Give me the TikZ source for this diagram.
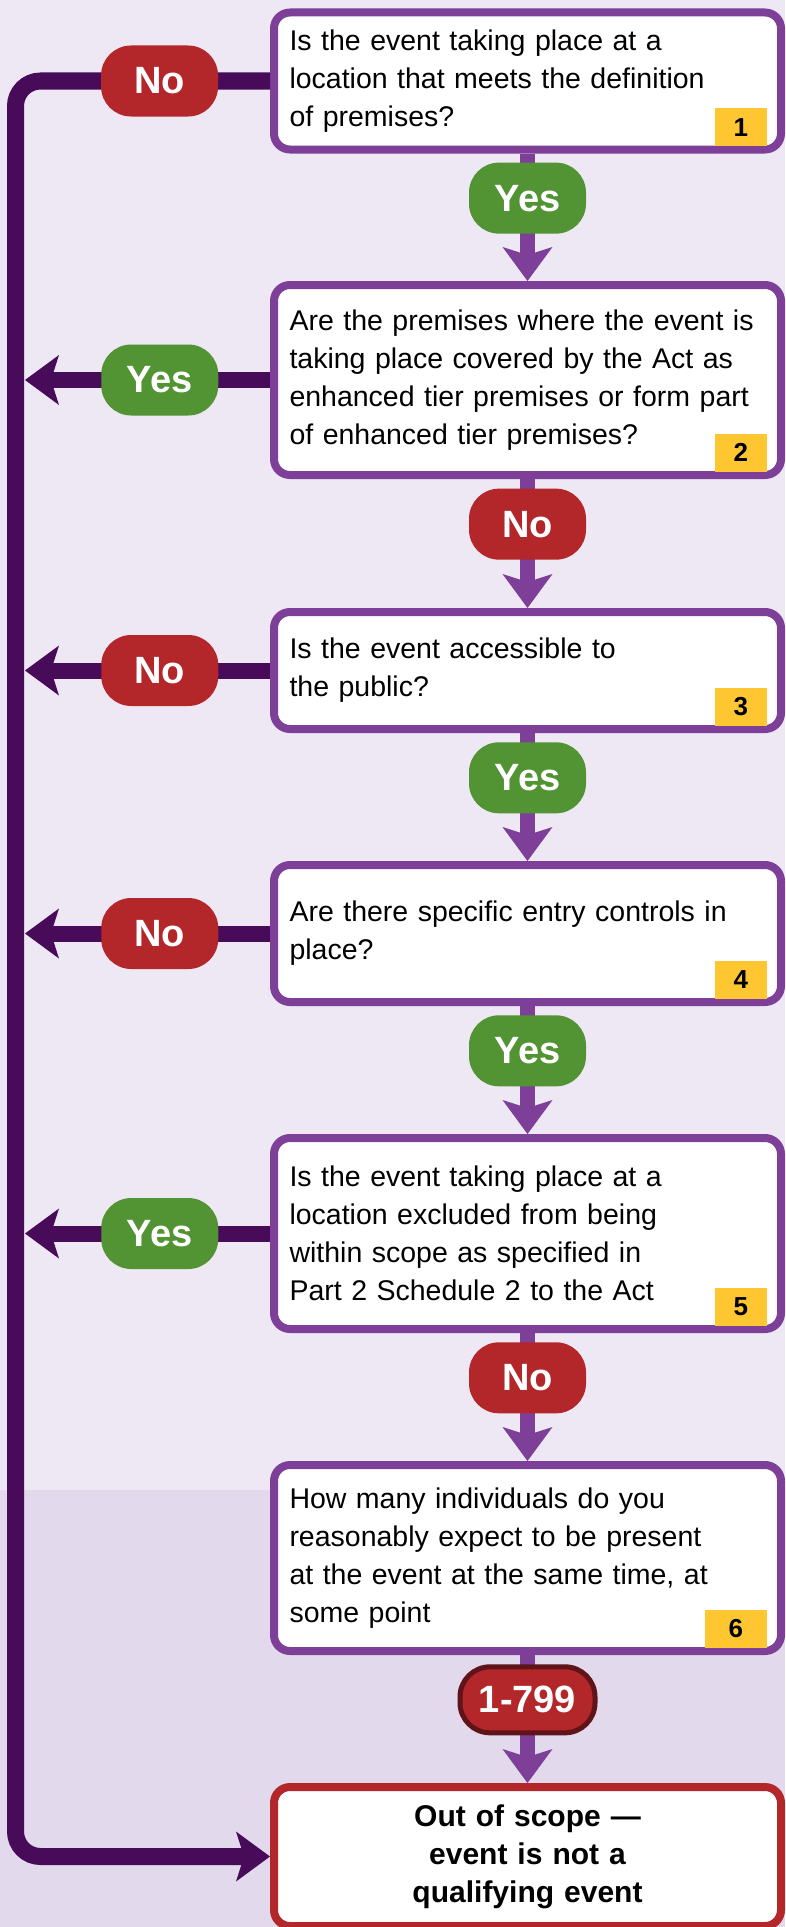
\documentclass[tikz,border=0pt]{standalone}
\usepackage{fontspec}
\setmainfont{Liberation Sans}
\usetikzlibrary{arrows.meta}

\definecolor{bglight}{RGB}{238,231,244}
\definecolor{bgdark}{RGB}{226,217,236}
\definecolor{boxpurple}{RGB}{125,63,152}
\definecolor{railpurple}{RGB}{71,11,89}
\definecolor{nored}{RGB}{179,38,41}
\definecolor{rimred}{RGB}{94,20,24}
\definecolor{yesgreen}{RGB}{82,147,51}
\definecolor{tagyellow}{RGB}{254,198,48}

\begin{document}
\begin{tikzpicture}[x=1pt,y=-1pt]
			\tikzstyle{question}= [
				rectangle, rounded corners = 16pt, draw = boxpurple, fill = white,
				line width = 8pt, minimum width = 507pt, text width = 476pt,
				inner xsep = 15.5pt, inner ysep = 0pt, align = left,
				font = \fontsize{28.5}{38}\selectfont
			]
			\tikzstyle{verdict}= [question, draw = nored, align = center,
				font = \fontsize{30}{38}\selectfont\bfseries]
			\tikzstyle{tag}= [
				rectangle, fill = tagyellow, anchor = south east,
				minimum width = 52pt, minimum height = 38pt, inner sep = 0pt,
				font = \fontsize{26}{26}\selectfont\bfseries
			]
			\tikzstyle{pill}= [
				rectangle, rounded corners = 30pt, text = white,
				minimum width = 117pt, minimum height = 71pt, inner sep = 0pt,
				font = \fontsize{38}{38}\selectfont\bfseries
			]
			\tikzstyle{nopill}=[pill, fill = nored]
			\tikzstyle{yespill}=[pill, fill = yesgreen]
			\tikzstyle{countpill}=[nopill, draw = rimred, line width = 5pt,
				minimum width = 135pt, minimum height = 66pt]
			\tikzstyle{downline}=[-{Stealth[length=34pt, width=50pt, inset=8pt, line width=0pt]},
				draw = boxpurple, line width = 15pt]
			\tikzstyle{exitline}=[-{Stealth[length=34pt, width=50pt, inset=8pt, line width=0pt]},
				draw = railpurple, line width = 16pt]
			\tikzstyle{railline}=[exitline, line width = 17pt, rounded corners = 25pt]

			\useasboundingbox (0,0) rectangle (785,1927);
			\fill[bglight] (0,0) rectangle (785,1490);
			\fill[bgdark] (0,1490) rectangle (785,1927);

			\node[question, minimum height = 137pt] (1) at (527.5, 81)
				{Is the event taking place at a\\ location that meets the definition\\ of premises?};
			\node[question, minimum height = 190pt] (2) at (527.5, 380)
				{Are the premises where the event is\\ taking place covered by the Act as\\ enhanced tier premises or form part\\ of enhanced tier premises?};
			\node[question, minimum height = 117pt] (3) at (527.5, 670.5)
				{Is the event accessible to\\ the public?};
			\node[question, minimum height = 137pt] (4) at (527.5, 933.5)
				{Are there specific entry controls in\\ place?};
			\node[question, minimum height = 191pt] (5) at (527.5, 1233.5)
				{Is the event taking place at a\\ location excluded from being\\ within scope as specified in\\ Part 2 Schedule 2 to the Act};
			\node[question, minimum height = 186pt] (6) at (527.5, 1558)
				{How many individuals do you\\ reasonably expect to be present\\ at the event at the same time, at\\ some point};
			\node[verdict, minimum height = 139pt] (out) at (527.5, 1856.5)
				{Out of scope —\\ event is not a\\ qualifying event};

			\node[tag] (t1) at ([shift = {(-18,-7)}] 1.south east) {1};
			\node[tag] (t2) at ([shift = {(-18,-7)}] 2.south east) {2};
			\node[tag] (t3) at ([shift = {(-18,-7)}] 3.south east) {3};
			\node[tag] (t4) at ([shift = {(-18,-7)}] 4.south east) {4};
			\node[tag] (t5) at ([shift = {(-18,-7)}] 5.south east) {5};
			\node[tag, minimum width = 62pt] (t6) at ([shift = {(-18,-7)}] 6.south east) {6};

			\coordinate (railx) at (15.5, 0);
			\coordinate (edge) at (25, 0);

			\draw (1) to node[yespill, pos = 0.35] (p2) {Yes} (2) [downline];
			\draw (2) to node[nopill, pos = 0.35] (p4) {No} (3) [downline];
			\draw (3) to node[yespill, pos = 0.35] (p6) {Yes} (4) [downline];
			\draw (4) to node[yespill, pos = 0.35] (p8) {Yes} (5) [downline];
			\draw (5) to node[nopill, pos = 0.35] (p10) {No} (6) [downline];
			\draw (6) to node[countpill, pos = 0.35] (p11) {1-799} (out) [downline];

			\draw (2.west) to node[yespill, pos = 0.45] (p3) {Yes} (2.west -| edge) [exitline];
			\draw (3.west) to node[nopill, pos = 0.45] (p5) {No} (3.west -| edge) [exitline];
			\draw (4.west) to node[nopill, pos = 0.45] (p7) {No} (4.west -| edge) [exitline];
			\draw (5.west) to node[yespill, pos = 0.45] (p9) {Yes} (5.west -| edge) [exitline];

			\draw[railline] (1.west) -- node[nopill, pos = 0.434] (p1) {No} (1.west -| railx)
				-- (railx |- out.west) -- (out.west);
		\end{tikzpicture}
\end{document}
